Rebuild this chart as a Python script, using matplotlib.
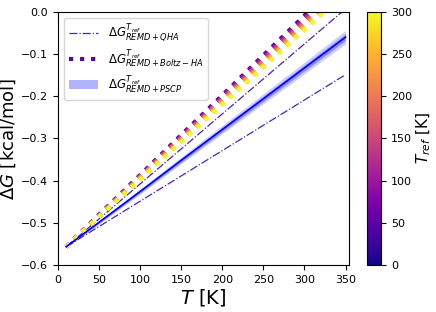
import matplotlib
matplotlib.use("Agg")
import matplotlib.pyplot as plt
import numpy as np

# temperatures (K)
T = [10, 50, 100, 150, 200, 250, 300, 350]

# QHA estimates (two reference curves)
qha_upper = [-0.557, -0.491, -0.408, -0.325, -0.242, -0.159, -0.076, 0.007]
qha_lower = [-0.557, -0.509, -0.449, -0.389, -0.329, -0.269, -0.209, -0.149]

# Boltz-HA estimates, one row per reference temperature
t_ref = [50, 75, 100, 125, 150, 175, 200, 225, 250, 275, 300]
boltz = [
    [-0.557, -0.481, -0.387, -0.292, -0.198, -0.103, -0.009, 0.086],
    [-0.557, -0.482, -0.388, -0.294, -0.200, -0.106, -0.012, 0.082],
    [-0.557, -0.482, -0.389, -0.296, -0.203, -0.109, -0.016, 0.077],
    [-0.557, -0.483, -0.390, -0.297, -0.205, -0.112, -0.019, 0.073],
    [-0.557, -0.483, -0.391, -0.299, -0.207, -0.115, -0.023, 0.069],
    [-0.557, -0.484, -0.392, -0.301, -0.209, -0.118, -0.026, 0.065],
    [-0.557, -0.484, -0.393, -0.302, -0.211, -0.121, -0.030, 0.061],
    [-0.557, -0.485, -0.394, -0.304, -0.214, -0.123, -0.033, 0.057],
    [-0.557, -0.485, -0.395, -0.306, -0.216, -0.126, -0.037, 0.053],
    [-0.557, -0.486, -0.397, -0.307, -0.218, -0.129, -0.040, 0.049],
    [-0.557, -0.486, -0.398, -0.309, -0.220, -0.132, -0.043, 0.045],
]

# PSCP estimate with spread
pscp = [-0.557, -0.499, -0.426, -0.352, -0.279, -0.206, -0.133, -0.060]
pscp_err_in = [0.001, 0.002, 0.003, 0.004, 0.005, 0.006, 0.007, 0.008]
pscp_err_out = [0.002, 0.004, 0.006, 0.008, 0.010, 0.012, 0.014, 0.016]

fig = plt.figure(figsize=(4.36, 3.12), dpi=100)
ax = fig.add_axes([0.133, 0.151, 0.667, 0.811])
cax = fig.add_axes([0.842, 0.151, 0.032, 0.811])

cmap = plt.get_cmap('plasma')
norm = matplotlib.colors.Normalize(vmin=0, vmax=300)

qha_color = '#4a22c8'
ax.plot(T, qha_upper, '-.', color=qha_color, lw=0.9,
        label=r'$\Delta G^{T_{ref}}_{REMD + QHA}$')
ax.plot(T, qha_lower, '-.', color=qha_color, lw=0.9)

for i, tr in enumerate(t_ref):
    lab = r'$\Delta G^{T_{ref}}_{REMD + Boltz-HA}$' if i == 0 else None
    ax.plot(T, boltz[i], ':', color=cmap(norm(tr)), lw=3, label=lab)

p = np.array(pscp)
e1 = np.array(pscp_err_in)
e2 = np.array(pscp_err_out)
ax.fill_between(T, p - e2, p + e2, color='blue', alpha=0.2, lw=0)
ax.fill_between(T, p - e1, p + e1, color='blue', alpha=0.3, lw=0,
                label=r'$\Delta G^{T_{ref}}_{REMD + PSCP}$')
ax.plot(T, pscp, '-', color='blue', lw=1.2)

ax.set_xlim(0, 354)
ax.set_ylim(-0.6, 0.0)
ax.set_xticks(np.arange(0, 351, 50))
ax.set_yticks(np.arange(-0.6, 0.01, 0.1))
ax.tick_params(labelsize=8)
ax.set_xlabel(r'$T$ [K]', fontsize=14, labelpad=2)
ax.set_ylabel(r'$\Delta G$ [kcal/mol]', fontsize=13, labelpad=2)
ax.legend(loc='upper left', fontsize=8.5, handlelength=2.5, labelspacing=0.35)

sm = matplotlib.cm.ScalarMappable(norm=norm, cmap=cmap)
cb = fig.colorbar(sm, cax=cax, ticks=np.arange(0, 301, 50))
cb.ax.tick_params(labelsize=8)
cb.set_label(r'$T_{ref}$ [K]', fontsize=11, labelpad=2)

fig.savefig('out.png', dpi=100)
